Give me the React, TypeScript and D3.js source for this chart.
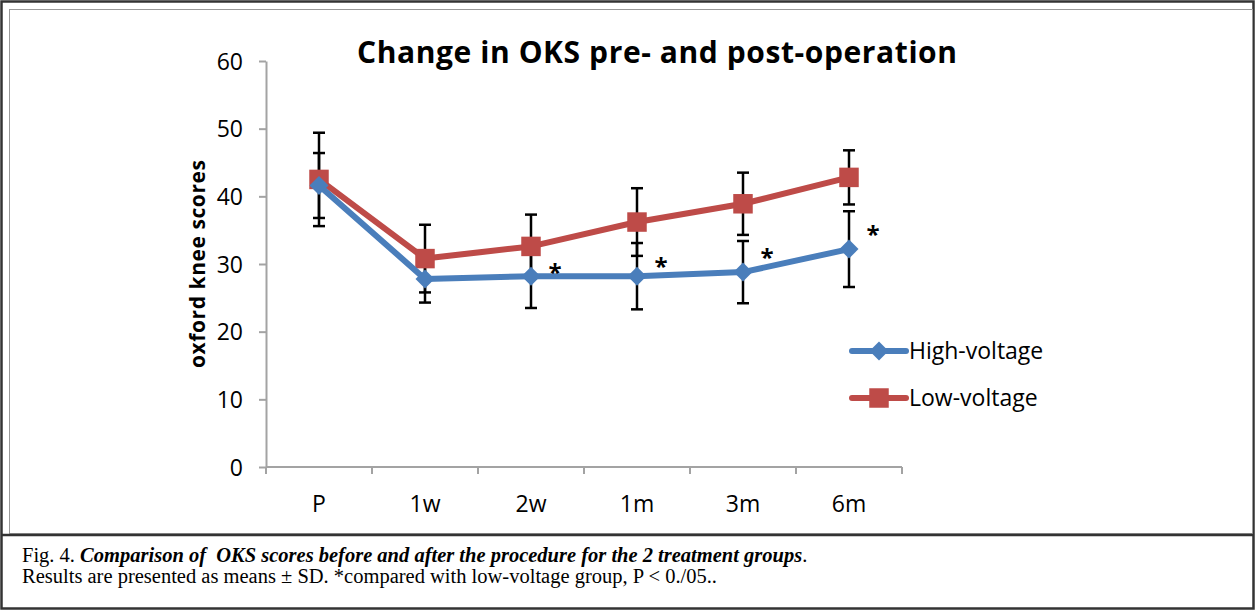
import React, { useEffect, useRef } from 'react';
import * as d3 from 'd3';

// values
const categories = ['P', '1w', '2w', '1m', '3m', '6m'];
const highVoltage = [41.6, 27.8, 28.2, 28.2, 28.8, 32.2];
const highVoltageSD = [4.8, 3.5, 4.7, 4.9, 4.6, 5.6];
const lowVoltage = [42.5, 30.8, 32.6, 36.2, 38.9, 42.8];
const lowVoltageSD = [6.9, 5.0, 4.7, 5.0, 4.6, 4.0];
const yTicks = [0, 10, 20, 30, 40, 50, 60];
const starCategories = ['2w', '1m', '3m', '6m'];
const starValues = [29.4, 30.3, 31.6, 35.0];
const seriesNames = ['High-voltage', 'Low-voltage'];

const BLUE = '#4a7ebb';
const RED = '#be4b48';
const AXIS = '#a3a3a3';
const FONT = '"Open Sans", sans-serif';

const App = () => {
    const ref = useRef<SVGSVGElement>(null);

    useEffect(() => {
        const svg = d3.select(ref.current);
        svg.selectAll('*').remove();

        // frame around the figure
        svg.append('rect')
            .attr('x', 1.5).attr('y', 1.5).attr('width', 1252).attr('height', 607)
            .attr('fill', 'none').attr('stroke', '#333').attr('stroke-width', 2.5);
        svg.append('rect')
            .attr('x', 9.5).attr('y', 9.5).attr('width', 1243).attr('height', 524)
            .attr('fill', 'none').attr('stroke', '#999').attr('stroke-width', 1);
        svg.append('line')
            .attr('x1', 2).attr('x2', 1253).attr('y1', 535).attr('y2', 535)
            .attr('stroke', '#333').attr('stroke-width', 2.5);

        const x = d3.scaleBand<string>().domain(categories).range([266, 902]);
        const y = d3.scaleLinear().domain([0, 60]).range([467, 61]);
        const cx = (c: string) => (x(c) as number) + x.bandwidth() / 2;

        // title
        svg.append('text')
            .attr('x', 657).attr('y', 63)
            .attr('text-anchor', 'middle')
            .attr('textLength', 600)
            .style('font-family', FONT).style('font-weight', 'bold').style('font-size', '30px')
            .text('Change in OKS pre- and post-operation');

        // y axis
        const yAxis = svg.append('g')
            .attr('transform', 'translate(266,0)')
            .call(d3.axisLeft(y).tickValues(yTicks).tickSize(7).tickPadding(16).tickSizeOuter(0));
        yAxis.select('.domain').attr('stroke', AXIS).attr('stroke-width', 2);
        yAxis.selectAll('.tick line').attr('stroke', AXIS).attr('stroke-width', 2);
        yAxis.selectAll('.tick text')
            .attr('dy', '0.36em')
            .style('font-family', FONT).style('font-size', '23px').attr('fill', '#000');

        svg.append('text')
            .attr('transform', 'translate(205,264) rotate(-90)')
            .attr('text-anchor', 'middle')
            .attr('textLength', 208)
            .style('font-family', FONT).style('font-weight', 'bold').style('font-size', '21px')
            .text('oxford knee scores');

        // x axis with ticks on band boundaries
        const xAxis = svg.append('g');
        xAxis.append('line')
            .attr('x1', 266).attr('x2', 902).attr('y1', y(0)).attr('y2', y(0))
            .attr('stroke', AXIS).attr('stroke-width', 2);
        xAxis.selectAll('.xtick')
            .data([...categories.map(c => x(c) as number), 902])
            .enter().append('line')
            .attr('x1', d => d).attr('x2', d => d)
            .attr('y1', y(0)).attr('y2', y(0) + 7)
            .attr('stroke', AXIS).attr('stroke-width', 2);
        xAxis.selectAll('.xlabel')
            .data(categories)
            .enter().append('text')
            .attr('x', d => cx(d)).attr('y', y(0) + 45)
            .attr('text-anchor', 'middle')
            .style('font-family', FONT).style('font-size', '23px')
            .text(d => d);

        const line = d3.line<number>()
            .x((d, i) => cx(categories[i]))
            .y(d => y(d));

        const errorBars = (values: number[], sd: number[]) => {
            const g = svg.append('g');
            values.forEach((v, i) => {
                const px = cx(categories[i]);
                g.append('line')
                    .attr('x1', px).attr('x2', px).attr('y1', y(v - sd[i])).attr('y2', y(v + sd[i]))
                    .attr('stroke', '#000').attr('stroke-width', 2.5);
                [v - sd[i], v + sd[i]].forEach(e => {
                    g.append('line')
                        .attr('x1', px - 6).attr('x2', px + 6).attr('y1', y(e)).attr('y2', y(e))
                        .attr('stroke', '#000').attr('stroke-width', 2.5);
                });
            });
        };
        errorBars(lowVoltage, lowVoltageSD);
        errorBars(highVoltage, highVoltageSD);

        const diamond = d3.symbol().type(d3.symbolDiamond2).size(230);
        const square = d3.symbol().type(d3.symbolSquare).size(380);

        // low-voltage series
        svg.append('path')
            .attr('d', line(lowVoltage))
            .attr('fill', 'none').attr('stroke', RED).attr('stroke-width', 6).attr('stroke-linejoin', 'round');
        svg.selectAll('.low-marker')
            .data(lowVoltage)
            .enter().append('path')
            .attr('transform', (d, i) => 'translate(' + cx(categories[i]) + ',' + y(d) + ')')
            .attr('d', square())
            .attr('fill', RED);

        // high-voltage series
        svg.append('path')
            .attr('d', line(highVoltage))
            .attr('fill', 'none').attr('stroke', BLUE).attr('stroke-width', 6).attr('stroke-linejoin', 'round');
        svg.selectAll('.high-marker')
            .data(highVoltage)
            .enter().append('path')
            .attr('transform', (d, i) => 'translate(' + cx(categories[i]) + ',' + y(d) + ')')
            .attr('d', diamond())
            .attr('fill', BLUE);

        // significance marks
        svg.selectAll('.star')
            .data(starValues)
            .enter().append('text')
            .attr('x', (d, i) => cx(starCategories[i]) + 24)
            .attr('y', d => y(d) + 13)
            .attr('text-anchor', 'middle')
            .style('font-family', FONT).style('font-weight', 'bold').style('font-size', '24px')
            .text('*');

        // legend
        const legend = svg.append('g').attr('transform', 'translate(850,351)');
        [BLUE, RED].forEach((col, i) => {
            const g = legend.append('g').attr('transform', 'translate(0,' + i * 47 + ')');
            g.append('line')
                .attr('x1', 2).attr('x2', 56).attr('y1', 0).attr('y2', 0)
                .attr('stroke', col).attr('stroke-width', 6).attr('stroke-linecap', 'round');
            g.append('path')
                .attr('transform', 'translate(29,0)')
                .attr('d', i === 0 ? diamond() : square())
                .attr('fill', col);
            g.append('text')
                .attr('x', 59).attr('y', 8)
                .style('font-family', FONT).style('font-size', '23px')
                .text(seriesNames[i]);
        });

        // caption
        const cap = svg.append('g').style('font-family', '"Liberation Serif", serif').style('font-size', '20.5px');
        const l1 = cap.append('text').attr('x', 22).attr('y', 562).style('white-space', 'pre');
        l1.append('tspan').text('Fig. 4. ');
        l1.append('tspan').style('font-style', 'italic').style('font-weight', 'bold')
            .text('Comparison of  OKS scores before and after the procedure for the 2 treatment groups');
        l1.append('tspan').text('.');
        cap.append('text').attr('x', 22).attr('y', 583)
            .text('Results are presented as means \u00b1 SD. *compared with low-voltage group, P < 0./05..');
    }, []);

    return (
        <svg ref={ref} width={1255} height={610}
            style={{ position: 'absolute', left: 0, top: 0, background: '#fff' }} />
    );
};

export default App;
